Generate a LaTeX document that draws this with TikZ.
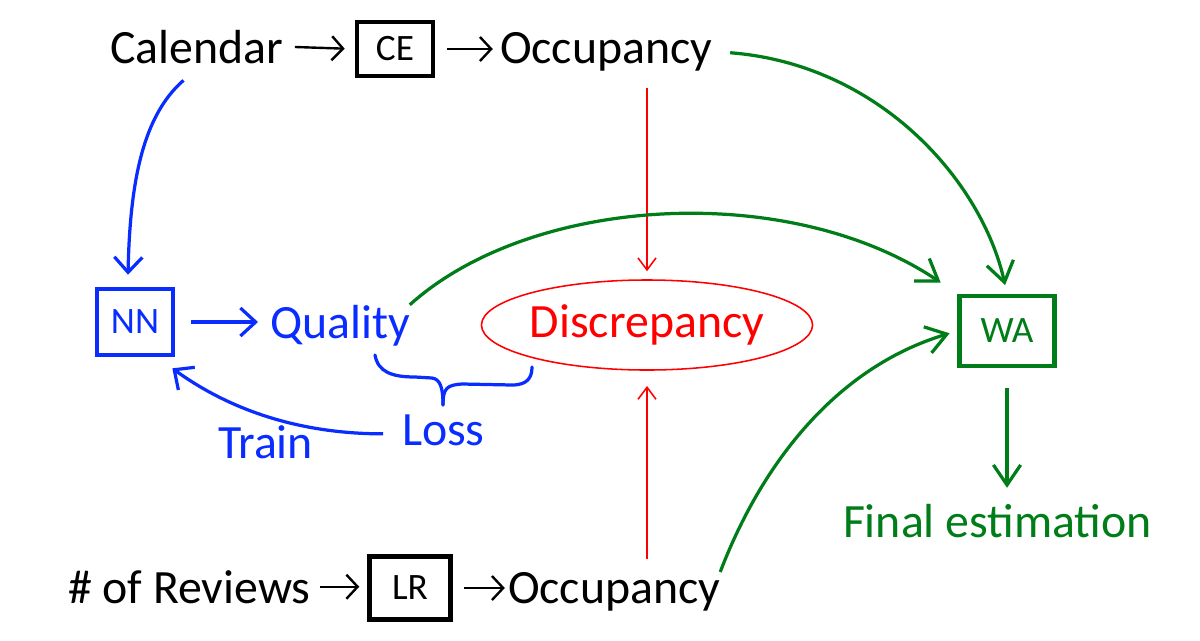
\documentclass[tikz,border=0pt]{standalone}
\usepackage{fontspec}
\setmainfont{Carlito}
\usetikzlibrary{arrows.meta,shapes.geometric,calc}
\definecolor{myblue}{RGB}{10,45,255}
\definecolor{mygreen}{RGB}{0,125,25}
\definecolor{myred}{RGB}{255,0,0}
\begin{document}
\begin{tikzpicture}[x=0.025cm,y=-0.025cm,
  txt/.style={inner sep=0pt,outer sep=0pt,font=\fontsize{34}{40}\selectfont},
  boxlab/.style={font=\fontsize{26.5}{30}\selectfont,inner sep=0pt,line width=3.3pt},
  kbox/.style={boxlab,draw=black},
  karr/.style={-{Straight Barb[length=0.28cm,width=0.6cm]},line width=1.7pt},
  barr/.style={myblue,line width=2.3pt,-{Straight Barb[length=0.38cm,width=0.7cm]}},
  garr/.style={mygreen,line width=2.3pt,-{Straight Barb[length=0.5cm,width=0.68cm]}},
  rarr/.style={myred,line width=1.1pt,-{Straight Barb[length=0.3cm,width=0.45cm]}},
  bline/.style={myblue,line width=2.3pt,line cap=round,line join=round},
]
\useasboundingbox (0,0) rectangle (1200,640);

% nodes
\node[txt,anchor=base west] (cal) at (110,63) {Calendar};
\node[kbox,minimum width=1.9cm,minimum height=1.35cm] (ce) at (395,49) {CE};
\node[txt,anchor=base west] (occ1) at (500,63) {Occupancy};

\node[boxlab,draw=myblue,text=myblue,minimum width=1.9cm,minimum height=1.65cm] (nn) at (135,322) {NN};
\node[txt,text=myblue,anchor=base west] (qual) at (270,338) {Quality};
\node[ellipse,draw=myred,line width=1.1pt,text=myred,font=\fontsize{34}{40}\selectfont,inner sep=0pt,minimum width=8cm,minimum height=2.25cm] (disc) at (647,325) {Discrepancy};
\node[boxlab,draw=mygreen,text=mygreen,minimum width=2.37cm,minimum height=1.75cm] (wa) at (1007,331) {WA};

\node[txt,text=myblue,anchor=base west] (loss) at (402,445) {Loss};
\node[txt,text=myblue,anchor=base west] (train) at (218,458) {Train};
\node[txt,text=mygreen,anchor=base west] (fin) at (843,537) {Final estimation};

\node[txt,anchor=base west] (rev) at (68,603) {\# of Reviews};
\node[kbox,minimum width=2.02cm,minimum height=1.58cm] (lr) at (410,588) {LR};
\node[txt,anchor=base west] (occ2) at (508,603) {Occupancy};

% black arrows
\draw[karr,shorten <=0.3cm,shorten >=0.25cm] (cal.east) -- (ce.west);
\draw[karr,shorten <=0.3cm,shorten >=0.18cm] (ce.east) -- (ce.east -| occ1.west);
\draw[karr,shorten <=0.25cm,shorten >=0.2cm] (rev.east) -- (rev.east -| lr.west);
\draw[karr,shorten <=0.28cm,shorten >=0.08cm] (lr.east) -- (lr.east -| occ2.west);

% red arrows
\draw[rarr,shorten <=0.42cm,shorten >=0.2cm] (disc.north |- occ1.south) -- (disc.north);
\draw[rarr,shorten <=0.32cm,shorten >=0.38cm] (disc.south |- occ2.north) -- (disc.south);

% blue arrows
\coordinate (calfoot) at ($(cal.south)+(-13,17)$);
\coordinate (nntop) at ($(nn.north)+(-7,-12)$);
\draw[barr] (calfoot) .. controls +(-40,35) and +(2,-95) .. (nntop);
\draw[barr,shorten <=0.4cm,shorten >=0.3cm] (nn.east) -- (nn.east -| qual.west);
\coordinate (lossfoot) at ($(loss.west)+(-19,4)$);
\coordinate (nnbot) at ($(nn.south east)+(-3,11)$);
\draw[barr] (lossfoot) .. controls +(-83,0) and +(58,42) .. (nnbot);

% brace
\draw[bline] (375,355) .. controls (378,372) and (392,377) .. (415,377) -- (432,378) .. controls (441,379) and (443,390) .. (443,405);
\draw[bline] (443,405) .. controls (443,388) and (447,385) .. (462,384) -- (512,385) .. controls (527,385) and (532,378) .. (532,367);

% green arrows
\draw[garr,shorten <=0.45cm,shorten >=0.22cm] (occ1.east) .. controls +(168,13) and +(-25,-112) .. (wa.north);
\draw[garr,shorten >=0.5cm] (qual.north east) .. controls +(122,-110) and +(-168,-113) .. (wa.north west);
\draw[garr,shorten >=0.2cm] (occ2.north east) .. controls +(42,-110) and +(-120,36) .. (wa.west);
\draw[garr,shorten <=0.5cm,shorten >=0.4cm] (wa.south) -- (wa.south |- fin.north);
\end{tikzpicture}
\end{document}
